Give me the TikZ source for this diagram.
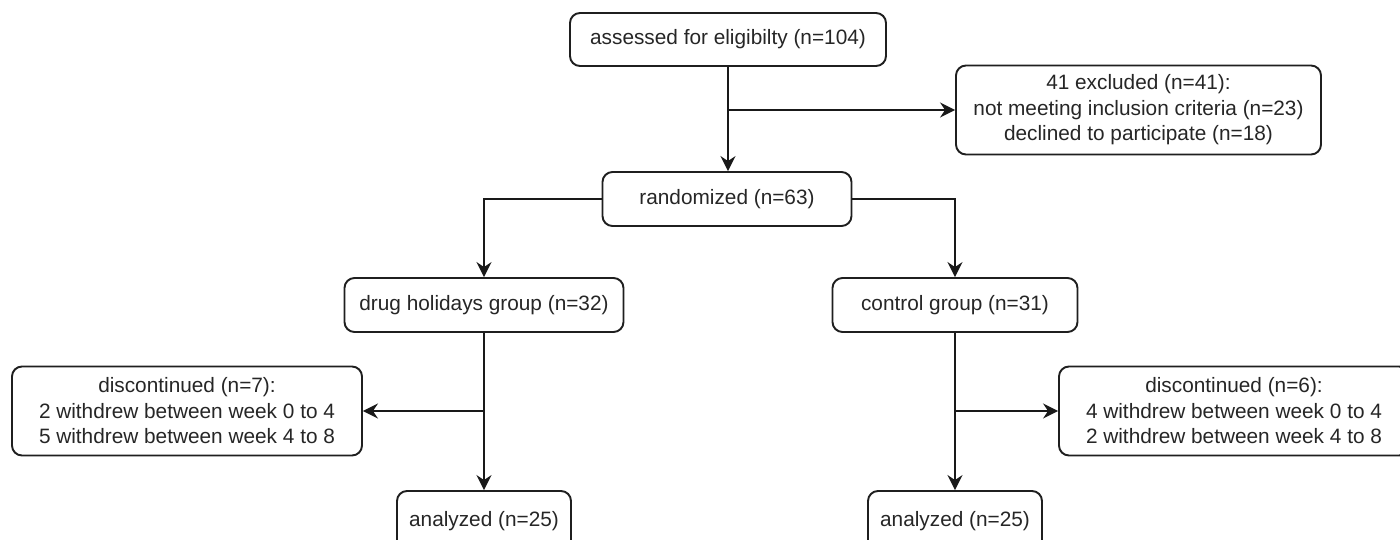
\documentclass[tikz,border=0pt]{standalone}
\usepackage{fontspec}
\setmainfont{Liberation Sans}
\usetikzlibrary{arrows.meta}
\begin{document}
\begin{tikzpicture}[x=1pt,y=-1pt,
  box/.style={draw=black!88, line width=1.9pt, rounded corners=10pt, fill=white,
    inner sep=0pt, align=center, text=black!85,
    font=\fontsize{20.8}{25.5}\selectfont},
  conn/.style={draw=black!90, line width=1.9pt},
  arr/.style={conn, -{Stealth[length=15pt,width=15pt,inset=5pt]}}]
\clip (0,0) rectangle (1400,539);
\fill[white] (0,0) rectangle (1400,539);

\node[box, minimum width=316pt, minimum height=53pt] (assess) at (728,39.5) {assessed for eligibilty (n=104)};
\node[box, minimum width=365pt, minimum height=89pt] (excl) at (1138.5,110) {41 excluded (n=41):\\not meeting inclusion criteria (n=23)\\declined to participate (n=18)};
\node[box, minimum width=249pt, minimum height=54pt] (rand) at (727,199) {randomized (n=63)};
\node[box, minimum width=279pt, minimum height=54pt] (drug) at (484,305) {drug holidays group (n=32)};
\node[box, minimum width=245pt, minimum height=54pt] (ctrl) at (955,305) {control group (n=31)};
\node[box, minimum width=350pt, minimum height=89pt] (discL) at (187,411) {discontinued (n=7):\\2 withdrew between week 0 to 4\\5 withdrew between week 4 to 8};
\node[box, minimum width=350pt, minimum height=89pt] (discR) at (1234,411) {discontinued (n=6):\\4 withdrew between week 0 to 4\\2 withdrew between week 4 to 8};
\node[box, minimum width=174pt, minimum height=64pt] (anaL) at (484,523) {\raisebox{8pt}{analyzed (n=25)}};
\node[box, minimum width=174pt, minimum height=64pt] (anaR) at (955,523) {\raisebox{8pt}{analyzed (n=25)}};

\coordinate (b1) at (assess.south |- excl.west);
\coordinate (b2) at (drug.south |- discL.east);
\coordinate (b3) at (ctrl.south |- discR.west);

\draw[arr] (assess.south) -- (assess.south |- rand.north);
\draw[arr] (b1) -- (excl.west);
\draw[arr] (rand.west) -| (drug.north);
\draw[arr] (rand.east) -| (ctrl.north);
\draw[arr] (drug.south) -- (anaL.north);
\draw[arr] (b2) -- (discL.east);
\draw[arr] (ctrl.south) -- (anaR.north);
\draw[arr] (b3) -- (discR.west);
\end{tikzpicture}
\end{document}
